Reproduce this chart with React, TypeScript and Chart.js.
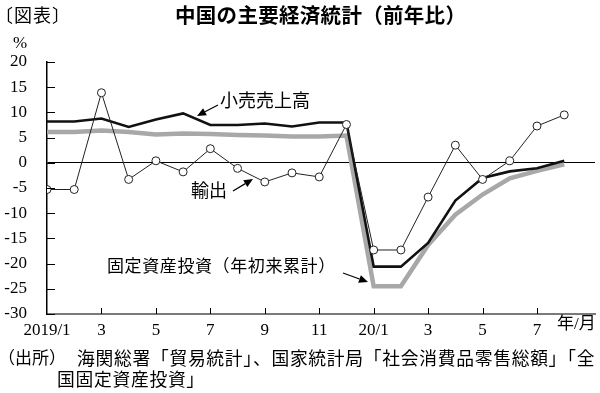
import { useEffect, useRef } from 'react';
import { Chart, registerables } from 'chart.js';

Chart.register(...registerables);

const months = ['2019/1','2019/2','2019/3','2019/4','2019/5','2019/6','2019/7','2019/8','2019/9','2019/10','2019/11','2019/12','2020/1','2020/2','2020/3','2020/4','2020/5','2020/6','2020/7','2020/8'];
const retailSales = [8.2, 8.2, 8.8, 7.1, 8.6, 9.8, 7.5, 7.5, 7.8, 7.2, 8.0, 8.0, -20.6, -20.6, -15.9, -7.5, -3.0, -1.7, -1.1, 0.4];
const fixedInvestment = [6.1, 6.1, 6.4, 6.1, 5.6, 5.8, 5.7, 5.5, 5.4, 5.2, 5.2, 5.4, -24.5, -24.5, -16.3, -10.3, -6.3, -3.1, -1.6, -0.3];
const exportsYoY = [-5.3, -5.3, 13.9, -3.3, 0.4, -1.8, 2.8, -1.1, -3.8, -2.0, -2.8, 7.6, -17.3, -17.3, -6.8, 3.5, -3.3, 0.4, 7.3, 9.5];
const xTickPositions = [0, 2, 4, 6, 8, 10, 12, 14, 16, 18];
const xTickLabels = ['2019/1', '3', '5', '7', '9', '11', '20/1', '3', '5', '7'];
const yTicks = [20, 15, 10, 5, 0, -5, -10, -15, -20, -25, -30];

const SERIF = "'Liberation Serif', 'Noto Sans CJK JP', serif";
const CJK = "'Liberation Serif', 'Noto Sans CJK JP', sans-serif";

function arrow(ctx: CanvasRenderingContext2D, x1: number, y1: number, x2: number, y2: number) {
  const ang = Math.atan2(y2 - y1, x2 - x1);
  const hl = 9, hw = 4;
  const bx = x2 - hl * Math.cos(ang);
  const by = y2 - hl * Math.sin(ang);
  ctx.save();
  ctx.strokeStyle = '#000';
  ctx.fillStyle = '#000';
  ctx.lineWidth = 1.2;
  ctx.beginPath();
  ctx.moveTo(x1, y1);
  ctx.lineTo(bx, by);
  ctx.stroke();
  ctx.beginPath();
  ctx.moveTo(x2, y2);
  ctx.lineTo(bx + hw * Math.sin(ang), by - hw * Math.cos(ang));
  ctx.lineTo(bx - hw * Math.sin(ang), by + hw * Math.cos(ang));
  ctx.closePath();
  ctx.fill();
  ctx.restore();
}

const decorPlugin = {
  id: 'decor',
  afterDraw(chart: any) {
    const ctx: any = chart.ctx;
    const xs = chart.scales.x;
    const ys = chart.scales.y;
    const area = chart.chartArea;
    ctx.save();
    // tick marks inside
    ctx.strokeStyle = '#000';
    ctx.lineWidth = 1;
    xTickPositions.forEach((v) => {
      if (v === 0) return;
      const px = Math.round(xs.getPixelForValue(v)) + 0.5;
      ctx.beginPath();
      ctx.moveTo(px, area.bottom);
      ctx.lineTo(px, area.bottom - 6);
      ctx.stroke();
    });
    yTicks.forEach((v) => {
      const py = Math.round(ys.getPixelForValue(v)) + 0.5;
      ctx.beginPath();
      ctx.moveTo(area.left, py);
      ctx.lineTo(area.left + 8, py);
      ctx.stroke();
    });
    ctx.fillStyle = '#000';
    ctx.textBaseline = 'middle';
    // title
    ctx.font = "bold 20.5px 'Noto Sans CJK JP', sans-serif";
    ctx.textAlign = 'left';
    ctx.letterSpacing = '0.3px';
    ctx.fillText('中国の主要経済統計（前年比）', 175, 15);
    ctx.letterSpacing = '0px';
    ctx.font = "18px 'Noto Sans CJK JP', sans-serif";
    ctx.letterSpacing = '1px';
    ctx.fillText('〔図表〕', -5, 15);
    ctx.letterSpacing = '0px';
    // percent
    ctx.font = '17px ' + SERIF;
    ctx.textAlign = 'center';
    ctx.fillText('%', 20, 44);
    // x axis unit
    ctx.font = '17px ' + CJK;
    ctx.textAlign = 'left';
    ctx.fillText('年/月', 557, 325);
    // annotations
    ctx.font = '18px ' + CJK;
    ctx.fillText('小売売上高', 220, 102);
    ctx.fillText('輸出', 191, 192);
    ctx.font = '17px ' + CJK;
    ctx.letterSpacing = '0.6px';
    ctx.fillText('固定資産投資（年初来累計）', 107, 268);
    ctx.letterSpacing = '0px';
    arrow(ctx, 218, 105, 197, 116);
    arrow(ctx, 233, 191, 253, 179);
    arrow(ctx, 343, 273, 368, 282);
    // source
    ctx.font = '17px ' + CJK;
    ctx.fillText('（出所）', -2, 360);
    ctx.font = '17.8px ' + CJK;
    ctx.letterSpacing = '0.7px';
    ctx.fillText('海関総署「貿易統計」、国家統計局「社会消費品零售総額」「全', 77, 360);
    ctx.fillText('国固定資産投資」', 57, 381);
    ctx.letterSpacing = '0px';
    ctx.restore();
  },
};

export default function App() {
  const ref = useRef<HTMLCanvasElement | null>(null);
  useEffect(() => {
    if (!ref.current) return;
    const chart = new Chart(ref.current, {
      type: 'line',
      data: {
        labels: months,
        datasets: [
          {
            label: '固定資産投資（年初来累計）',
            data: fixedInvestment.map((v, i) => ({ x: i, y: v })),
            borderColor: '#a8a8a8',
            borderWidth: 4.5,
            pointRadius: 0,
            tension: 0,
            order: 3,
          },
          {
            label: '小売売上高',
            data: retailSales.map((v, i) => ({ x: i, y: v })),
            borderColor: '#111',
            borderWidth: 2.6,
            pointRadius: 0,
            tension: 0,
            order: 2,
          },
          {
            label: '輸出',
            data: exportsYoY.map((v, i) => ({ x: i, y: v })),
            borderColor: '#222',
            borderWidth: 1,
            pointRadius: 4,
            pointBackgroundColor: '#fff',
            pointBorderColor: '#222',
            pointBorderWidth: 1,
            tension: 0,
            order: 1,
          },
        ],
      },
      options: {
        responsive: false,
        animation: false,
        layout: { padding: { left: 0, right: 5, top: 62, bottom: 0 } },
        plugins: {
          legend: { display: false },
          tooltip: { enabled: false },
          title: { display: false },
        },
        scales: {
          x: {
            type: 'linear',
            min: 0,
            max: 20.13,
            afterFit: (s: any) => { s.height = 79; },
            afterBuildTicks: (s: any) => { s.ticks = xTickPositions.map((v) => ({ value: v })); },
            grid: { display: false, drawTicks: false },
            border: { display: true, color: '#7a7a7a', width: 2 },
            ticks: {
              autoSkip: false,
              maxRotation: 0,
              padding: 6,
              color: '#000',
              font: { family: SERIF, size: 17 },
              callback: (v: any) => {
                const idx = xTickPositions.indexOf(Number(v));
                return idx >= 0 ? xTickLabels[idx] : '';
              },
            },
          },
          y: {
            min: -30,
            max: 20,
            afterFit: (s: any) => { s.width = 47; },
            afterBuildTicks: (s: any) => { s.ticks = yTicks.map((v) => ({ value: v })); },
            grid: {
              drawTicks: false,
              color: (c: any) => (c.tick && c.tick.value === 0 ? '#000' : 'rgba(0,0,0,0)'),
              lineWidth: 1,
            },
            border: { display: true, color: '#000', width: 1.5 },
            ticks: {
              padding: 20,
              color: '#000',
              font: { family: SERIF, size: 17 },
            },
          },
        },
      },
      plugins: [decorPlugin],
    });
    return () => chart.destroy();
  }, []);
  return (
    <div style={{ position: 'fixed', left: 0, top: 0, width: 600, height: 393, background: '#fff' }}>
      <canvas ref={ref} width={600} height={393} style={{ width: 600, height: 393 }} />
    </div>
  );
}
